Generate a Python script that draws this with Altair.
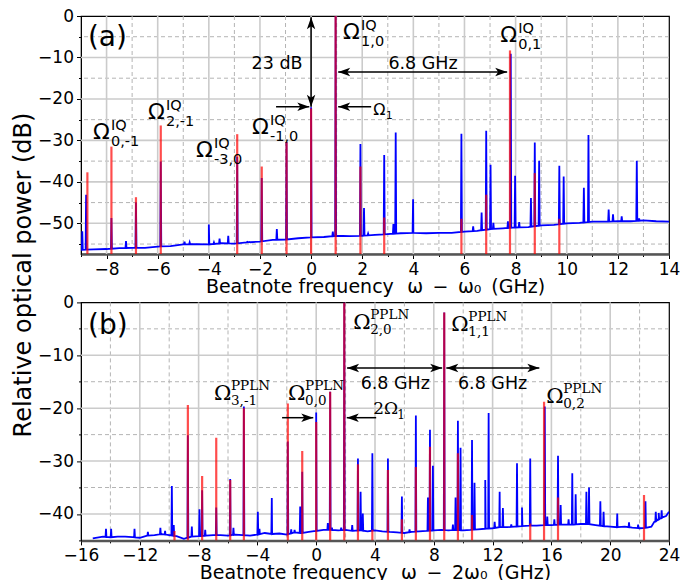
import altair as alt
import pandas as pd
import numpy as np

# ---------------- Panel (a) data ----------------
a_floor_x = [-9.0, -8.5, -8.0, -7.5, -7.0, -6.5, -6.0, -5.5, -5.0, -4.5, -4.0, -3.5, -3.0, -2.5,
             -2.0, -1.5, -1.0, -0.5, 0.0, 0.5, 1.0, 1.5, 2.0, 2.5, 3.0, 3.5, 4.0, 4.5, 5.0, 5.5,
             6.0, 6.5, 7.0, 7.5, 8.0, 8.5, 9.0, 9.5, 10.0, 10.5, 11.0, 11.5, 12.0, 12.5, 13.0, 13.5, 14.0]
a_floor_y = [-56.4, -56.3, -56.2, -56.0, -55.9, -55.9, -55.6, -55.5, -55.1, -55.0, -55.1, -54.8, -54.9, -54.6,
             -54.4, -54.0, -53.9, -53.6, -53.4, -53.3, -53.0, -53.1, -53.0, -52.8, -52.6, -52.4, -52.3, -52.4, -52.3, -52.3,
             -52.0, -51.8, -51.4, -51.2, -51.0, -50.9, -50.5, -50.4, -50.0, -49.9, -49.6, -49.6, -49.5, -49.5, -49.3, -49.5, -49.6]
a_blue_x = [-8.8, -7.81, -6.85, -5.88, -2.89, -1.93, -0.96, 0.0, 0.96, 1.93, 2.86, 5.88, 6.85, 7.81, 8.75, 9.71,
            -8.95, -7.24, -4.95, -4.75, -4.0, -3.8, -3.58, -3.24, -2.5, -2.4, -1.34, 0.85, 2.07, 2.23, 3.22, 3.31,
            3.99, 6.34, 6.67, 7.02, 7.13, 7.7, 7.98, 8.14, 8.6, 8.92, 9.88, 10.67, 10.85, 11.64, 11.81, 12.15, 12.74, 12.83]
a_blue_y = [-43.1, -48.7, -45.0, -35.1, -34.0, -39.1, -30.4, -22.0, 0.0, -30.9, -33.5, -28.4, -27.7, -9.1, -30.5, -36.1,
            -51.9, -54.3, -54.4, -54.6, -50.3, -54.6, -53.7, -53.0, -54.3, -54.5, -51.4, -52.0, -46.3, -52.5, -50.2, -28.1,
            -44.2, -50.7, -47.4, -35.9, -49.9, -49.5, -38.5, -49.7, -43.9, -34.9, -38.7, -41.4, -28.7, -46.7, -47.8, -48.3, -34.9, -48.8]
a_red_x = [-8.75, -7.81, -6.85, -5.88, -2.89, -1.93, -0.96, 0.0, 0.96, 1.93, 2.86, 5.88, 6.85, 7.78, 8.75, 9.71]
a_red_y = [-37.7, -31.5, -43.7, -26.4, -28.5, -36.3, -30.4, -22.3, 0.0, -36.3, -48.6, -48.9, -43.1, -8.3, -37.9, -48.9]

# ---------------- Panel (b) data ----------------
b_floor_x = [-15.2, -14.5, -14.0, -13.5, -13.0, -12.5, -12.0, -11.5, -11.0, -10.5, -10.0, -9.5, -9.0, -8.5,
             -8.0, -7.5, -7.0, -6.5, -6.0, -5.5, -5.0, -4.5, -4.0, -3.5, -3.0, -2.5, -2.0, -1.5, -1.0, -0.5,
             0.0, 0.5, 1.0, 1.5, 2.0, 2.5, 3.0, 3.5, 4.0, 4.5, 5.0, 5.5, 6.0, 6.5, 7.0, 7.5, 8.0, 8.5, 9.0,
             9.5, 10.0, 10.5, 11.0, 11.5, 12.0, 12.5, 13.0, 13.5, 14.0, 14.5, 15.0, 15.5, 16.0, 16.5, 17.0,
             17.5, 18.0, 18.5, 19.0, 19.5, 20.0, 20.5, 21.0, 21.5, 22.0, 22.5, 22.8, 23.0, 23.3, 23.6, 23.8, 24.0]
b_floor_y = [-44.6, -44.3, -44.4, -44.3, -44.3, -44.4, -44.5, -44.1, -44.0, -43.8, -44.0, -44.2, -44.7, -44.3,
             -44.2, -44.1, -44.0, -44.0, -44.1, -43.9, -44.0, -44.1, -43.9, -43.6, -43.8, -43.7, -43.9, -43.5, -43.6, -43.4,
             -43.2, -43.0, -43.0, -43.1, -43.0, -43.2, -43.1, -43.3, -43.1, -43.3, -43.4, -43.5, -43.6, -43.4, -43.3, -43.2, -43.1, -43.0, -43.1,
             -43.0, -43.1, -43.0, -42.9, -42.8, -42.7, -42.5, -42.5, -42.4, -42.3, -42.2, -42.2, -42.1, -42.1, -42.0, -42.0,
             -42.0, -41.9, -41.9, -42.1, -42.3, -42.4, -42.5, -42.4, -42.6, -42.7, -42.6, -42.4, -41.5, -41.0, -40.6, -40.4, -39.6]
b_blue_x = [-8.73, -7.76, -6.8, -5.85, -4.92, -1.93, -0.95, 0.0, 0.95, 1.91, 2.84, 3.82, 4.88, 5.83, 6.78, 7.74,
            8.71, 9.64, 10.6, 14.56, 15.55, 16.45, 22.4,
            -14.3, -13.95, -12.36, -11.45, -10.6, -10.28, -9.82, -9.69, -8.46, -7.94, -7.55, -5.63, -3.97, -3.86,
            -3.02, -1.7, -1.47, -1.09, 0.79, 1.07, 1.7, 2.45, 3.02, 3.17, 6.35, 7.6, 7.94, 9.3, 9.48, 9.82, 10.77,
            11.5, 11.73, 12.14, 12.48, 12.7, 13.27, 13.66, 14.0, 15.72, 16.2, 16.63, 17.17, 17.42, 17.65, 18.38,
            18.56, 19.33, 19.55, 20.48, 21.28, 21.9, 23.1, 23.3, 23.5]
b_blue_y = [-25.1, -35.5, -38.8, -33.4, -19.7, -26.3, -32.0, -20.8, -16.9, 0.0, -29.5, -28.5, -29.5, -36.7, -21.4, -24.1,
            -1.9, -22.4, -26.0, -29.5, -19.7, -29.0, -37.6,
            -42.8, -42.8, -42.8, -43.4, -42.6, -43.2, -34.7, -42.1, -42.4, -39.1, -43.0, -42.6, -39.6, -42.8,
            -37.0, -42.9, -43.0, -38.6, -41.7, -42.6, -42.6, -42.1, -35.8, -39.9, -42.9, -36.9, -30.9, -42.0, -36.9, -27.5, -34.1,
            -33.6, -20.9, -41.5, -35.8, -38.9, -42.0, -30.4, -38.8, -40.5, -41.0, -38.3, -41.0, -32.3, -36.3, -35.8,
            -35.0, -37.6, -39.6, -39.9, -41.6, -42.0, -39.6, -39.8, -39.3]
b_red_x = [-9.64, -8.73, -7.76, -6.8, -5.85, -4.92, -1.93, -0.95, 0.0, 0.95, 1.91, 2.84, 3.82, 4.88, 5.83, 6.78,
           7.74, 8.71, 9.64, 10.6, 14.56, 15.5, 16.45, 22.3]
b_red_y = [-43.2, -19.4, -32.8, -25.6, -33.6, -20.0, -19.1, -28.1, -22.6, -16.9, 0.0, -30.6, -43.0, -31.7, -41.0, -31.1,
           -27.3, -1.9, -28.5, -40.2, -41.8, -18.8, -36.9, -36.4]

# ---------------- labels ----------------
a_omega_x = [-8.53, -6.38, -4.5, -2.31, 1.25, 7.4]
a_omega_y = [-29.6, -24.8, -33.9, -28.4, -5.5, -6.3]
a_omega_sub = ["0,-1", "2,-1", "-3,0", "-1,0", "1,0", "0,1"]
b_omega_x = [-6.95, -1.91, 2.52, 9.19, 15.65]
b_omega_y = [-18.4, -18.4, -4.98, -5.36, -19.1]
b_omega_sub = ["3,-1", "0,0", "2,0", "1,1", "0,2"]

# grid / tick positions
a_xticks = list(range(-9, 15))
a_yticks = list(range(-55, 1, 5))
b_xticks = list(range(-16, 25, 2))
b_yticks = list(range(-45, 1, 5))

W, H = 588, 238
SANS = "DejaVu Sans"
SERIF = "DejaVu Serif"
MAJOR_GRID = "#cbcbcb"
MINOR_GRID = "#b4b4b4"

R_SHAPE = "M0,0L-2,-0.7L-1.5,0L-2,0.7Z"
L_SHAPE = "M0,0L2,-0.7L1.5,0L2,0.7Z"
U_SHAPE = "M0,0L-0.7,2L0,1.5L0.7,2Z"
D_SHAPE = "M0,0L-0.7,-2L0,-1.5L0.7,-2Z"


def trace_df(fx, fy, sx, sy, eps):
    xs, ys = list(fx), list(fy)
    for x, y in zip(sx, sy):
        b = float(np.interp(x, fx, fy))
        xs += [x - eps, x, x + eps]
        ys += [b, y, b]
    df = pd.DataFrame({"x": xs, "y": ys}).sort_values("x", kind="stable").reset_index(drop=True)
    df["o"] = range(len(df))
    return df


def cond(test, a, b):
    return {"condition": {"test": test, "value": a}, "value": b}


def make_axis(vals, mod, title, **kw):
    minor = f"datum.value % {mod} !== 0"
    return alt.Axis(values=vals, title=title,
                    labelExpr=f"datum.value % {mod} === 0 ? datum.label : ''",
                    grid=False, tickSize=cond(minor, 2.5, 4.5),
                    labelFlush=False, labelOverlap=False, **kw)


def panel(tr, red, xdom, ydom, xax, yax, xticks, xmod, yticks, ymod, omegas, omega_font, sup_dx, sup_dy, sub_dy,
          omega_size, sup_size, shafts, heads, texts):
    xs = alt.Scale(domain=xdom, nice=False, zero=False)
    ys = alt.Scale(domain=ydom, nice=False, zero=False)
    X = alt.X("x:Q", scale=xs, axis=xax)
    Y = alt.Y("y:Q", scale=ys, axis=yax)
    gx_major = pd.DataFrame({"x": [v for v in xticks if v % xmod == 0 and xdom[0] < v < xdom[1]]})
    gx_minor = pd.DataFrame({"x": [v for v in xticks if v % xmod != 0 and xdom[0] < v < xdom[1]]})
    gy_major = pd.DataFrame({"y": [v for v in yticks if v % ymod == 0 and ydom[0] < v < ydom[1]]})
    gy_minor = pd.DataFrame({"y": [v for v in yticks if v % ymod != 0 and ydom[0] < v < ydom[1]]})
    layers = [
        alt.Chart(gx_minor).mark_rule(color=MINOR_GRID, strokeWidth=1, strokeDash=[4, 3]).encode(x=X),
        alt.Chart(gy_minor).mark_rule(color=MINOR_GRID, strokeWidth=1, strokeDash=[4, 3]).encode(y=Y),
        alt.Chart(gx_major).mark_rule(color=MAJOR_GRID, strokeWidth=1.6).encode(x=X),
        alt.Chart(gy_major).mark_rule(color=MAJOR_GRID, strokeWidth=1.6).encode(y=Y),
    ]
    layers.append(alt.Chart(tr).mark_line(color="#0000ff", strokeWidth=1.8, clip=True)
                  .encode(x=X, y=Y, order="o:Q"))
    layers.append(alt.Chart(red).mark_rule(color="#ff0000", opacity=0.7, strokeWidth=2.2, clip=True)
                  .encode(x=X, y=Y, y2=alt.value(H)))
    layers.append(alt.Chart(shafts).mark_rule(color="black", strokeWidth=1.5)
                  .encode(x=X, x2="x2:Q", y=Y, y2="y2:Q"))
    layers.append(alt.Chart(heads).mark_point(filled=True, color="black", opacity=1, size=144, strokeWidth=0)
                  .encode(x=X, y=Y, shape=alt.Shape("shape:N", scale=None)))
    layers.append(alt.Chart(omegas).mark_text(font=omega_font, fontSize=omega_size, align="left",
                                              baseline="alphabetic", color="black")
                  .encode(x=X, y=Y, text="om:N"))
    layers.append(alt.Chart(omegas).mark_text(font=omega_font, fontSize=sup_size, align="left",
                                              baseline="alphabetic", color="black", dx=sup_dx, dy=sup_dy)
                  .encode(x=X, y=Y, text="sup:N"))
    layers.append(alt.Chart(omegas).mark_text(font=omega_font, fontSize=sup_size, align="left",
                                              baseline="alphabetic", color="black", dx=sup_dx, dy=sub_dy)
                  .encode(x=X, y=Y, text="sub:N"))
    for df, props in texts:
        layers.append(alt.Chart(df).mark_text(color="black", **props).encode(x=X, y=Y, text="t:N"))
    return alt.layer(*layers).properties(width=W, height=H)


# ---- panel (a) ----
tr_a = trace_df(a_floor_x, a_floor_y, a_blue_x, a_blue_y, 0.02)
red_a = pd.DataFrame({"x": a_red_x, "y": a_red_y})
om_a = pd.DataFrame({"x": a_omega_x, "y": a_omega_y, "om": ["Ω"] * 6, "sup": ["IQ"] * 6, "sub": a_omega_sub})
shafts_a = pd.DataFrame({"x": [0.0, -1.37, 2.35, 1.06], "x2": [0.0, -0.07, 1.06, 7.67],
                         "y": [-0.3, -21.9, -21.9, -13.5], "y2": [-21.9, -21.9, -21.9, -13.5]})
heads_a = pd.DataFrame({"x": [0.0, 0.0, -0.07, 1.06, 1.06, 7.67], "y": [-0.3, -21.9, -21.9, -21.9, -13.5, -13.5],
                        "shape": [U_SHAPE, D_SHAPE, R_SHAPE, L_SHAPE, L_SHAPE, R_SHAPE]})
texts_a = [
    (pd.DataFrame({"x": [-1.33, 4.38], "y": [-12.8, -12.8], "t": ["23 dB", "6.8 GHz"]}),
     dict(font=SANS, fontSize=17.5, align="center", baseline="alphabetic")),
    (pd.DataFrame({"x": [-8.73], "y": [-5.3], "t": ["(a)"]}),
     dict(font=SANS, fontSize=28, align="left", baseline="middle")),
    (pd.DataFrame({"x": [2.43], "y": [-23.8], "t": ["Ω"]}),
     dict(font=SANS, fontSize=16, align="left", baseline="alphabetic")),
    (pd.DataFrame({"x": [2.43], "y": [-23.8], "t": ["1"]}),
     dict(font=SANS, fontSize=11, align="left", baseline="alphabetic", dx=12.5, dy=4)),
]
xa = make_axis(a_xticks, 2, "Beatnote frequency\u2002\u2009ω\u2002−\u2002ω₀\u2009 (GHz)",
               domainColor="#555555", domainWidth=2.5, titlePadding=0, labelPadding=3)
ya = make_axis(a_yticks, 10, "Relative optical power (dB)", titleY=258.5,
               titleFontSize=24, labelPadding=3, titlePadding=2)
pa = panel(tr_a, red_a, [-9, 14], [-57.4, 0], xa, ya, a_xticks, 2, a_yticks, 10, om_a, SANS, 18, -9, 7, 22, 14.5,
           shafts_a, heads_a, texts_a)

# ---- panel (b) ----
tr_b = trace_df(b_floor_x, b_floor_y, b_blue_x, b_blue_y, 0.03)
red_b = pd.DataFrame({"x": b_red_x, "y": b_red_y})
om_b = pd.DataFrame({"x": b_omega_x, "y": b_omega_y, "om": ["Ω"] * 5, "sup": ["PPLN"] * 5, "sub": b_omega_sub})
shafts_b = pd.DataFrame({"x": [-2.32, 4.08, 2.1, 8.85], "x2": [-0.2, 2.08, 8.57, 15.18],
                         "y": [-21.8, -21.8, -12.4, -12.4], "y2": [-21.8, -21.8, -12.4, -12.4]})
heads_b = pd.DataFrame({"x": [-0.2, 2.08, 2.1, 8.57, 8.85, 15.18],
                        "y": [-21.8, -21.8, -12.4, -12.4, -12.4, -12.4],
                        "shape": [R_SHAPE, L_SHAPE, L_SHAPE, R_SHAPE, L_SHAPE, R_SHAPE]})
texts_b = [
    (pd.DataFrame({"x": [5.38, 12.0], "y": [-16.3, -16.3], "t": ["6.8 GHz", "6.8 GHz"]}),
     dict(font=SANS, fontSize=17.5, align="center", baseline="alphabetic")),
    (pd.DataFrame({"x": [-15.52], "y": [-4.4], "t": ["(b)"]}),
     dict(font=SANS, fontSize=28, align="left", baseline="middle")),
    (pd.DataFrame({"x": [3.88], "y": [-21.1], "t": ["2Ω"]}),
     dict(font=SERIF, fontSize=17, align="left", baseline="alphabetic")),
    (pd.DataFrame({"x": [3.88], "y": [-21.1], "t": ["1"]}),
     dict(font=SERIF, fontSize=12, align="left", baseline="alphabetic", dx=24, dy=5)),
]
xb = make_axis(b_xticks, 4, "Beatnote frequency\u2002\u2009ω\u2002−\u20022ω₀\u2009 (GHz)",
               domainColor="#555555", domainWidth=2.5, titlePadding=0, labelPadding=3)
yb = make_axis(b_yticks, 10, None, labelPadding=3)
pb = panel(tr_b, red_b, [-16, 24], [-45, 0], xb, yb, b_xticks, 4, b_yticks, 10, om_b, SERIF, 17, -10, 5, 21, 13.5,
           shafts_b, heads_b, texts_b)

chart = alt.vconcat(pa, pb, spacing=48.4, bounds="flush").properties(
    padding={"left": 3, "top": -2, "right": 5, "bottom": 0}
).configure_axis(
    labelFont=SANS, labelFontSize=17, labelColor="black", titleFont=SANS, titleFontSize=19,
    titleFontWeight="normal", titleColor="black", tickColor="black", domainColor="black"
).configure_view(stroke="black", strokeWidth=1.2)

chart.save("out.html", embed_options={"renderer": "svg", "actions": False})
